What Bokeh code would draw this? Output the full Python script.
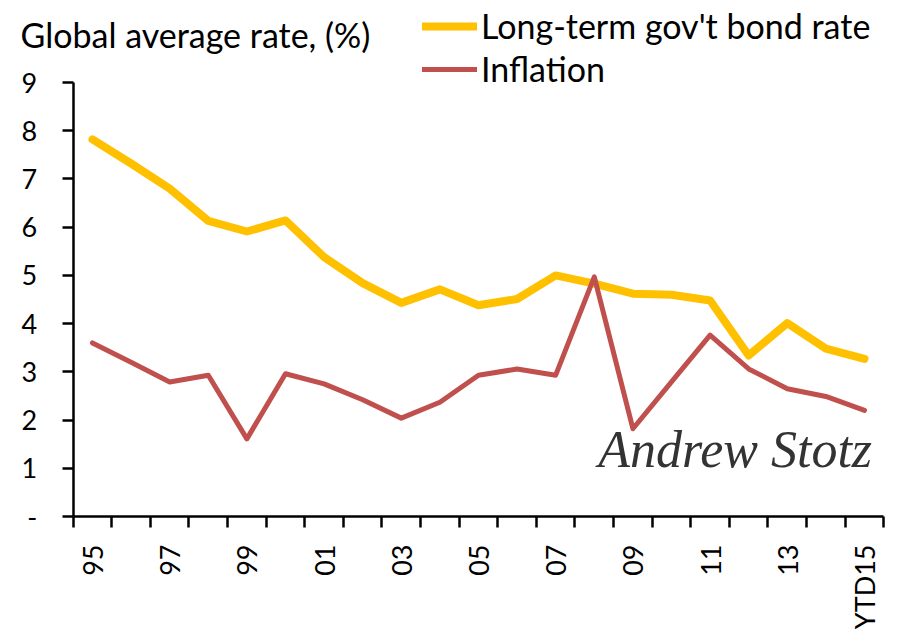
import math
from bokeh.plotting import figure
from bokeh.models import Range1d, FixedTicker, Legend, LegendItem, Label
from bokeh.embed import file_html
from bokeh.resources import INLINE

# ---- data ----
years = ["95", "96", "97", "98", "99", "00", "01", "02", "03", "04", "05",
         "06", "07", "08", "09", "10", "11", "12", "13", "14", "YTD15"]
bond_rate = [7.82, 7.32, 6.80, 6.13, 5.91, 6.14, 5.38, 4.84, 4.43, 4.71, 4.38,
             4.51, 5.00, 4.83, 4.62, 4.60, 4.48, 3.34, 4.01, 3.48, 3.27]
inflation = [3.60, 3.20, 2.79, 2.93, 1.61, 2.96, 2.75, 2.42, 2.04, 2.37, 2.93,
             3.06, 2.93, 4.97, 1.82, 2.79, 3.76, 3.06, 2.65, 2.49, 2.20]
y_ticks = [0, 1, 2, 3, 4, 5, 6, 7, 8, 9]
y_tick_labels = {0: "-"}
title_text = "Global average rate, (%)"
series_names = ["Long-term gov't bond rate", "Inflation"]
signature = "Andrew Stotz"

FONT = "Lato"
YELLOW = "#FFC000"
RED = "#C0504D"

n = len(years)
xs = [i + 0.5 for i in range(n)]

W, H = 900, 640
# frame covers the whole canvas; axes are drawn at fixed data locations
p = figure(width=W, height=H, output_backend="svg", toolbar_location=None,
           x_range=Range1d(-1.883, n + 0.433), y_range=Range1d(-2.5714, 10.7005),
           min_border=0)
p.title.visible = False
p.background_fill_color = "white"
p.border_fill_color = "white"
p.outline_line_color = None
p.xgrid.visible = False
p.ygrid.visible = False

r_bond = p.line(xs, bond_rate, line_color=YELLOW, line_width=8, line_join="round", line_cap="round")
r_inf = p.line(xs, inflation, line_color=RED, line_width=5, line_join="round", line_cap="round")

# x axis: boundary ticks (minor), labels every other category
label_pos = [xs[i] for i in range(0, n, 2)]
p.xaxis.fixed_location = 0
p.xaxis.bounds = (0, n)
p.xaxis.ticker = FixedTicker(ticks=label_pos, minor_ticks=list(range(n + 1)))
p.xaxis.major_label_overrides = {xs[i]: years[i] for i in range(0, n, 2)}
p.xaxis.major_tick_out = 0
p.xaxis.major_tick_in = 0
p.xaxis.minor_tick_out = 11
p.xaxis.minor_tick_in = 0
p.xaxis.minor_tick_line_width = 2.5
p.xaxis.minor_tick_line_color = "black"
p.xaxis.major_label_orientation = math.pi / 2
p.xaxis.major_label_standoff = 17

p.yaxis.fixed_location = 0
p.yaxis.bounds = (0, 9)
p.yaxis.ticker = FixedTicker(ticks=y_ticks, minor_ticks=[])
p.yaxis.major_label_overrides = y_tick_labels
p.yaxis.major_tick_out = 11
p.yaxis.major_tick_in = 0
p.yaxis.major_label_standoff = 25

for ax in (p.xaxis, p.yaxis):
    ax.axis_line_width = 2.5
    ax.axis_line_color = "black"
    ax.major_tick_line_width = 2.5
    ax.major_tick_line_color = "black"
    ax.major_label_text_font = FONT
    ax.major_label_text_color = "black"
p.xaxis.major_label_text_font_size = "27px"
p.yaxis.major_label_text_font_size = "27px"

title = Label(x=20, y=H - 34, x_units="screen", y_units="screen", text=title_text,
              text_font=FONT, text_font_size="34px", text_color="black",
              text_baseline="middle", text_align="left")
p.add_layout(title)

legend = Legend(items=[LegendItem(label=series_names[0], renderers=[r_bond]),
                       LegendItem(label=series_names[1], renderers=[r_inf])],
                location=(422, H - 89), orientation="vertical",
                glyph_width=55, glyph_height=40, spacing=2, padding=0, margin=0,
                label_standoff=4, label_text_font=FONT, label_text_font_size="34px",
                label_text_color="black", border_line_color=None,
                background_fill_alpha=0)
p.add_layout(legend, "center")

sig = Label(x=13.6, y=0.8, text=signature, text_font="Liberation Serif",
            text_font_style="italic", text_font_size="52px", text_color="#333333")
p.add_layout(sig)

open("out.html", "w").write(file_html(p, INLINE))
